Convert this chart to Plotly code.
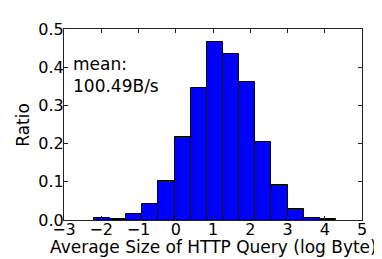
import plotly.graph_objects as go

bin_left = -2.2
bin_width = 6.5 / 15
ratios = [0.005, 0.0035, 0.016, 0.041, 0.102, 0.216, 0.346, 0.466, 0.434,
          0.361, 0.203, 0.091, 0.030, 0.004, 0.0015]
centers = [bin_left + bin_width * (i + 0.5) for i in range(len(ratios))]
x_ticks = [-3, -2, -1, 0, 1, 2, 3, 4, 5]
y_ticks = [0.0, 0.1, 0.2, 0.3, 0.4, 0.5]
y_tick_labels = ["0.0", "0.1", "0.2", "0.3", "0.4", "0.5"]

font = "DejaVu Sans"

fig = go.Figure()
fig.add_trace(go.Bar(x=centers, y=ratios, width=bin_width,
                     marker=dict(color="#0000ff", line=dict(color="black", width=1))))

axis_common = dict(showline=True, linecolor="#222222", linewidth=1, mirror="ticks",
                   ticks="inside", ticklen=4, tickcolor="#222222", showgrid=False,
                   zeroline=False, tickfont=dict(family=font, size=16, color="black"))

fig.update_xaxes(range=[-3, 5], tickvals=x_ticks,
                 ticktext=[("\u2212" + str(-v)) if v < 0 else str(v) for v in x_ticks],
                 ticklabelstandoff=-5, **axis_common)
fig.update_yaxes(range=[0, 0.5], tickvals=y_ticks, ticktext=y_tick_labels,
                 ticklabelstandoff=-4, **axis_common)

fig.add_annotation(x=0.5, y=-0.14, xref="paper", yref="paper", xanchor="center",
                   yanchor="middle", text="Average Size of HTTP Query (log Byte)",
                   showarrow=False, font=dict(family=font, size=17, color="black"))
fig.add_annotation(x=-0.14, y=0.5, xref="paper", yref="paper", xanchor="center",
                   yanchor="middle", text="Ratio", textangle=-90,
                   showarrow=False, font=dict(family=font, size=17, color="black"))

fig.add_annotation(x=0.024, y=0.88, xref="paper", yref="paper", xanchor="left", yanchor="top",
                   text="mean:<br>100.49B/s", showarrow=False, align="left",
                   font=dict(family=font, size=17, color="black"))

fig.update_layout(width=382, height=259, margin=dict(l=56, r=28, t=13, b=47),
                  plot_bgcolor="white", paper_bgcolor="white", showlegend=False,
                  bargap=0)
fig.write_html("out.html")
